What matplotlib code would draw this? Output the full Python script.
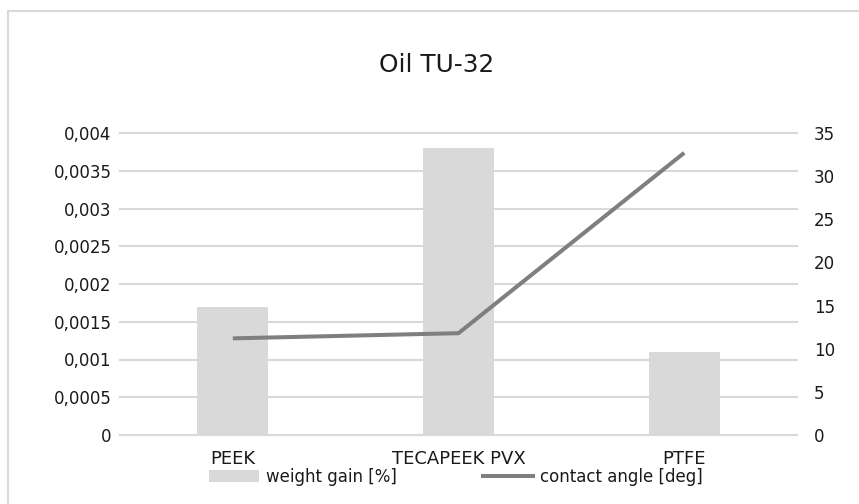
"""Oil TU-32: weight gain bars with contact angle line on a secondary axis."""

import matplotlib

matplotlib.use("Agg")

import matplotlib.pyplot as plt
from matplotlib.lines import Line2D
from matplotlib.patches import Patch, Rectangle
from matplotlib.ticker import FuncFormatter, MultipleLocator

# ---------------------------------------------------------------------------
# Data
# ---------------------------------------------------------------------------

materials = ["PEEK", "TECAPEEK PVX", "PTFE"]
weight_gain = [0.0017, 0.0038, 0.0011]       # [%]
contact_angle = [11.2, 11.8, 32.7]           # [deg]

BAR_COLOR = "#d9d9d9"
LINE_COLOR = "#7f7f7f"
GRID_COLOR = "#d9d9d9"
TEXT_COLOR = "#1a1a1a"

plt.rcParams["font.family"] = ["DejaVu Sans"]

W, H = 859, 504
fig = plt.figure(figsize=(W / 100, H / 100), dpi=100)

# chart-area border (only top/left visible in the crop)
fig.patches.append(Rectangle(
    (7.5 / W, -0.1), 1.2, 1.1 - 11.5 / H,
    transform=fig.transFigure, fill=False,
    edgecolor=GRID_COLOR, linewidth=1.5,
))

ax = fig.add_axes([120 / W, 1 - 435 / H, (797 - 120) / W, (435 - 133) / H])
ax2 = ax.twinx()

x = list(range(len(materials)))
ax.bar(x, weight_gain, width=0.315, color=BAR_COLOR, zorder=2)
ax2.plot(x, contact_angle, color=LINE_COLOR, linewidth=2.9,
         solid_capstyle="butt", zorder=3)

ax.set_xlim(-0.5, len(materials) - 0.5)
ax.set_ylim(0, 0.004)
ax2.set_ylim(0, 35)
ax.yaxis.set_major_locator(MultipleLocator(0.0005))
ax2.yaxis.set_major_locator(MultipleLocator(5))


def comma_fmt(v, _pos):
    if abs(v) < 1e-12:
        return "0"
    return f"{v:.4f}".rstrip("0").replace(".", ",")


ax.yaxis.set_major_formatter(FuncFormatter(comma_fmt))
ax2.yaxis.set_major_formatter(FuncFormatter(lambda v, _p: f"{v:.0f}"))

ax.set_xticks(x)
ax.set_xticklabels(materials)

ax.set_axisbelow(True)
ax.grid(axis="y", color=GRID_COLOR, linewidth=1.5, zorder=0)
for gl in ax.get_ygridlines():
    gl.set_clip_on(False)

for a in (ax, ax2):
    for side in ("top", "left", "right", "bottom"):
        a.spines[side].set_visible(False)
ax.spines["bottom"].set_visible(True)
ax.spines["bottom"].set_color(GRID_COLOR)
ax.spines["bottom"].set_linewidth(1.5)

ax.tick_params(axis="y", length=0, pad=6, labelsize=12, labelcolor=TEXT_COLOR)
ax2.tick_params(axis="y", length=0, pad=12, labelsize=12, labelcolor=TEXT_COLOR)
ax.tick_params(axis="x", length=0, pad=11, labelsize=13, labelcolor=TEXT_COLOR)

fig.text(437 / W, 1 - 72 / H, "Oil TU-32", ha="center", va="baseline",
         fontsize=17.8, color=TEXT_COLOR)

handles = [
    Patch(facecolor=BAR_COLOR, edgecolor="none", label="weight gain [%]"),
    Line2D([], [], color=LINE_COLOR, linewidth=2.9, label="contact angle [deg]"),
]
fig.legend(handles=handles, loc="center", bbox_to_anchor=(456 / W, 1 - 477 / H),
           ncol=2, frameon=False, fontsize=12, handlelength=3.0,
           handletextpad=0.4, columnspacing=5.2, labelcolor=TEXT_COLOR,
           borderpad=0, borderaxespad=0)

fig.savefig("out.png", dpi=100)
